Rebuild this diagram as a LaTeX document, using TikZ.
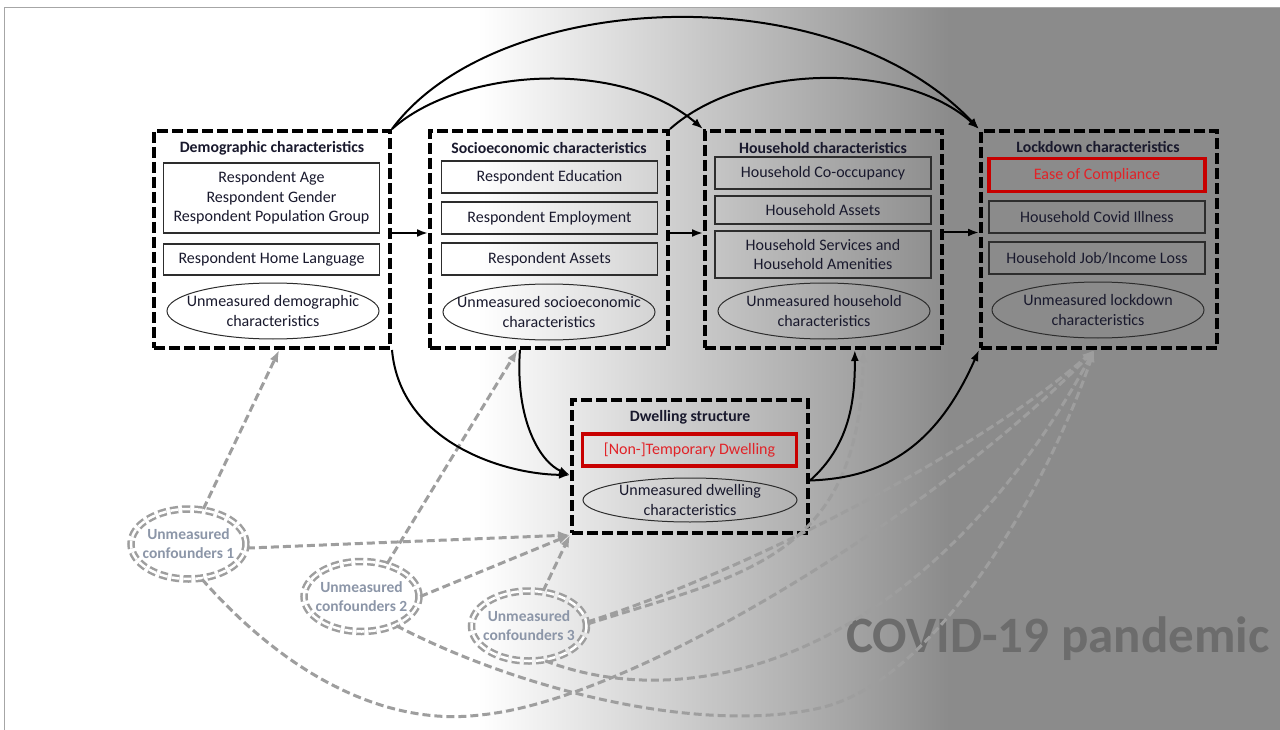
\documentclass[tikz,border=0pt]{standalone}
\usepackage{fontspec}
\setmainfont{Carlito}
\usetikzlibrary{arrows.meta,shapes.geometric,calc}
\definecolor{bggray}{RGB}{139,139,139}
\definecolor{txt}{RGB}{25,25,45}
\definecolor{dred}{RGB}{200,0,0}
\definecolor{rtxt}{RGB}{225,35,40}
\definecolor{cgray}{RGB}{158,158,158}
\definecolor{ctxt}{RGB}{140,150,168}
\definecolor{covid}{RGB}{108,108,108}
\definecolor{ibord}{RGB}{45,45,45}
\begin{document}
\begin{tikzpicture}[x=1pt,y=-1pt,
  outerbox/.style={draw=black, line width=4pt, dash pattern=on 11pt off 4pt, minimum height=217pt, inner sep=0pt},
  ttl/.style={font=\bfseries\fontsize{15.8}{18}\selectfont, text=txt, inner sep=0pt},
  ibox/.style={draw=ibord, line width=1.3pt, font=\fontsize{16}{19.5}\selectfont, text=txt, align=center, minimum width=216pt, inner sep=0pt},
  rbox/.style={ibox, draw=dred, line width=3.5pt, text=rtxt},
  uell/.style={ellipse, draw=ibord, line width=1pt, minimum width=212pt, minimum height=56pt, inner sep=0pt},
  etxt/.style={align=center, inner sep=0pt, font=\fontsize{16}{19.5}\selectfont, text=txt},
  conf/.style={ellipse, draw=cgray, double=white, double distance=2.5pt, line width=2.5pt, dash pattern=on 8pt off 4pt, minimum width=115pt, minimum height=70pt, inner sep=0pt},
  ctx/.style={align=center, inner sep=0pt, font=\bfseries\fontsize{15.5}{19}\selectfont, text=ctxt},
  arr/.style={-{Latex[length=11pt,width=8pt]}, line width=2pt, draw=black},
  garr/.style={-{Latex[length=12pt,width=9pt]}, draw=cgray, line width=3pt, dash pattern=on 8pt off 4pt}
]
\useasboundingbox (0,0) rectangle (1280,730);
% background
\begin{scope}
\clip (0,0) rectangle (1280,730);
\fill[white] (0,0) rectangle (1280,730);
\shade[left color=white,right color=bggray] (478,0) rectangle (950,730);
\fill[bggray] (949.5,0) rectangle (1280,730);
\fill[white] (0,0) rectangle (1280,8);
\fill[white] (0,0) rectangle (4,730);
\draw[black!35, line width=1pt] (4,745) -- (4,8) -- (1290,8);
\end{scope}

% Demographic
\node[outerbox, minimum width=236pt] (demo) at (272,239.5) {};
\node[ttl] (demoT) at (272,148) {Demographic characteristics};
\node[ibox, minimum height=70pt] (d1) at (271.5,198) {Respondent Age\\Respondent Gender\\Respondent Population Group};
\node[ibox, minimum height=31pt] (d2) at (271.5,259.5) {Respondent Home Language};
\node[uell] (dE) at (273,311) {};
\node[etxt] (dEt) at (dE.center) {Unmeasured demographic\\characteristics};

% Socioeconomic
\node[outerbox, minimum width=238pt] (socio) at (549,239.5) {};
\node[ttl] (socioT) at (549,148) {Socioeconomic characteristics};
\node[ibox, minimum height=32pt] (s1) at (549.5,177) {Respondent Education};
\node[ibox, minimum height=32pt] (s2) at (549.5,218) {Respondent Employment};
\node[ibox, minimum height=32pt] (s3) at (549.5,259) {Respondent Assets};
\node[uell] (sE) at (549,312) {};
\node[etxt] (sEt) at (sE.center) {Unmeasured socioeconomic\\characteristics};

% Household
\node[outerbox, minimum width=237pt] (house) at (823.5,239.5) {};
\node[ttl] (houseT) at (823,148) {Household characteristics};
\node[ibox, minimum height=32pt] (h1) at (823,173) {Household Co-occupancy};
\node[ibox, minimum height=28pt] (h2) at (823,210) {Household Assets};
\node[ibox, minimum height=47pt] (h3) at (823,254.5) {Household Services and\\Household Amenities};
\node[uell] (hE) at (824,311) {};
\node[etxt] (hEt) at (hE.center) {Unmeasured household\\characteristics};

% Lockdown
\node[outerbox, minimum width=236pt] (lock) at (1099,239.5) {};
\node[ttl] (lockT) at (1098,147) {Lockdown characteristics};
\node[rbox, minimum width=216pt, minimum height=33pt] (l1) at (1097,175) {Ease of Compliance};
\node[ibox, minimum height=32pt] (l2) at (1097,217) {Household Covid Illness};
\node[ibox, minimum height=32pt] (l3) at (1097,258) {Household Job/Income Loss};
\node[uell] (lE) at (1098,310) {};
\node[etxt] (lEt) at (lE.center) {Unmeasured lockdown\\characteristics};

% Dwelling
\node[outerbox, minimum width=236pt, minimum height=133pt] (dwell) at (690,466.5) {};
\node[ttl] (dwellT) at (690,417) {Dwelling structure};
\node[rbox, minimum width=214pt, minimum height=32pt] (w1) at (689.5,450) {[Non-]Temporary Dwelling};
\node[uell, minimum width=214pt, minimum height=44pt] (wE) at (690,500) {};
\node[etxt] (wEt) at (wE.center) {Unmeasured dwelling\\characteristics};

% COVID text
\node[anchor=base west, inner sep=0pt, font=\bfseries\fontsize{51}{60}\selectfont, text=covid] (covid) at (846,652) {COVID-19 pandemic};

% confounders
\node[conf] (c1) at (188.5,544) {};
\node[ctx] (c1t) at (c1.center) {Unmeasured\\confounders 1};
\node[conf] (c2) at (361.5,596.5) {};
\node[ctx] (c2t) at (c2.center) {Unmeasured\\confounders 2};
\node[conf] (c3) at (529,626) {};
\node[ctx] (c3t) at (c3.center) {Unmeasured\\confounders 3};

% helper coordinates
\coordinate (dIn) at ($(dwell.west)+(0,8.5)$);
\coordinate (dOut) at ($(dwell.east)+(0,14)$);
\coordinate (sOut) at ($(socio.south west)!0.38!(socio.south east)$);
\coordinate (hIn) at ($(house.south west)!0.63!(house.south east)$);
\coordinate (hIn2) at ($(house.south west)!0.665!(house.south east)$);
\coordinate (lIn) at ($(lock.south west)!0.48!(lock.south east)$);
\coordinate (dmIn) at ($(demo.south west)!0.53!(demo.south east)$);
\coordinate (soIn) at ($(socio.south west)!0.37!(socio.south east)$);

% gray dashed arrows
\draw[garr] (c1.67) -- (dmIn);
\draw[garr] (c1.-4) -- (dwell.south west);
\draw[garr] (c2.52) -- (soIn);
\draw[garr] (c2.0) -- (dwell.south west);
\draw[garr] (c3.68) -- (dwell.south west);
\draw[garr] (c1.-69) .. controls (300,690) and (400,725) .. (480,715) .. controls (640,700) and (950,500) .. (lIn);
\draw[garr] (c2.-40) .. controls (520,690) and (700,735) .. (820,708) .. controls (940,680) and (1050,480) .. (lIn);
\draw[garr] (c3.-65) .. controls (700,720) and (930,650) .. (lIn);
\draw[garr] (c3.2) .. controls (740,575) and (860,560) .. (hIn2);
\draw[garr] (c3.4) .. controls (750,570) and (980,450) .. (lIn);

% black arrows
\draw[arr] ($(demo.east)+(0,-6.5)$) -- ($(socio.west)+(0,-6.5)$);
\draw[arr] ($(socio.east)+(0,-6.5)$) -- ($(house.west)+(0,-6.5)$);
\draw[arr] ($(house.east)+(0,-7)$) -- ($(lock.west)+(0,-7)$);
\draw[arr] (demo.north east) .. controls (495,-10) and (830,-28) .. (lock.north west);
\draw[arr] (demo.north east) .. controls (460,68) and (620,58) .. (house.north west);
\draw[arr] (socio.north east) .. controls (745,62) and (905,62) .. (lock.north west);
\draw[arr] (demo.south east) .. controls (400,440) and (500,474) .. (dIn);
\draw[arr] (sOut) .. controls (515,420) and (540,462) .. (dIn);
\draw[arr] (dOut) .. controls (850,445) and (855,400) .. (hIn);
\draw[arr] (dOut) .. controls (880,478) and (935,450) .. (lock.south west);
\end{tikzpicture}
\end{document}
